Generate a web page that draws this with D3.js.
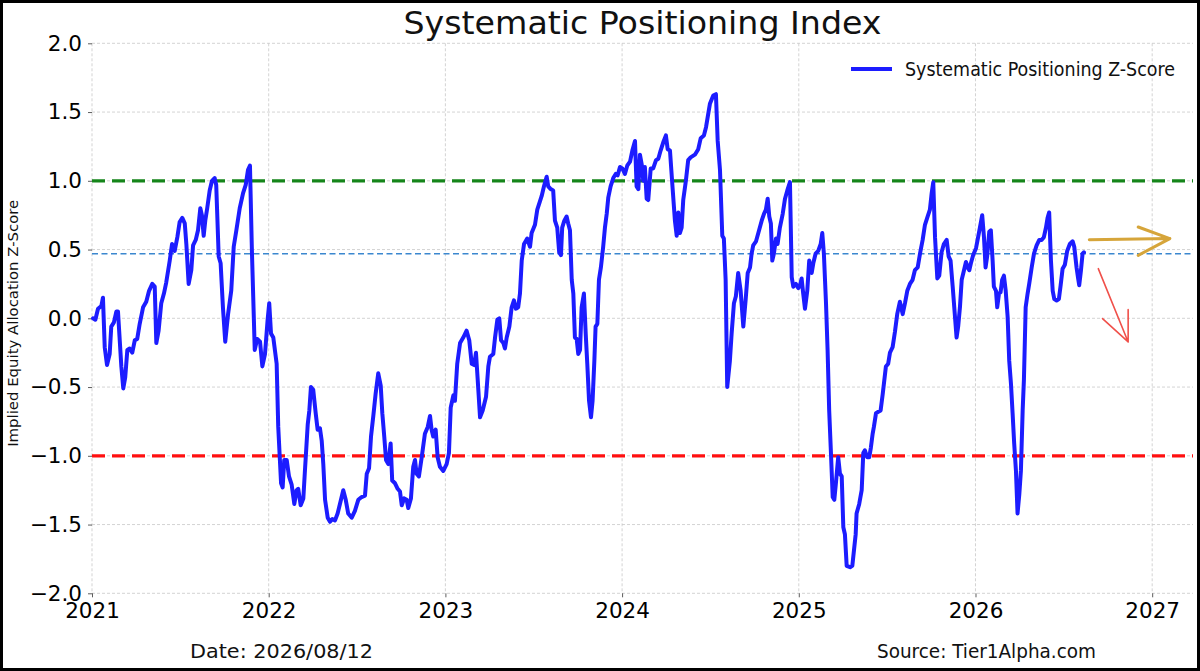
<!DOCTYPE html>
<html>
<head>
<meta charset="utf-8">
<script src="https://cdn.jsdelivr.net/npm/d3@7"></script>
<style>
  html, body { margin: 0; padding: 0; background: #fff; }
  svg { display: block; }
</style>
</head>
<body>
<svg id="chart" width="1200" height="671"></svg>
<script>
// ---- data ----
const startYear = 2021;
// years elapsed since 2021-01-01
const yearsIn = [0.006,0.019,0.034,0.053,0.062,0.072,0.085,0.100,0.109,0.124,0.138,0.147,0.166,0.177,0.188,0.200,0.213,0.228,0.242,0.256,0.270,0.289,0.307,0.323,0.341,0.355,0.364,0.377,0.392,0.407,0.420,0.440,0.453,0.468,0.483,0.496,0.511,0.525,0.534,0.547,0.562,0.572,0.587,0.600,0.613,0.622,0.632,0.641,0.652,0.666,0.679,0.694,0.703,0.717,0.728,0.741,0.754,0.770,0.788,0.802,0.817,0.836,0.855,0.870,0.883,0.894,0.905,0.921,0.935,0.951,0.964,0.979,0.994,
  1.003,1.013,1.026,1.045,1.054,1.070,1.079,1.088,1.102,1.115,1.130,1.145,1.158,1.167,1.181,1.196,1.205,1.221,1.230,1.239,1.252,1.266,1.277,1.290,1.300,1.309,1.319,1.334,1.347,1.360,1.375,1.390,1.409,1.422,1.436,1.450,1.470,1.488,1.507,1.526,1.545,1.555,1.568,1.579,1.592,1.605,1.620,1.634,1.643,1.654,1.664,1.677,1.690,1.699,1.715,1.730,1.743,1.753,1.767,1.781,1.790,1.805,1.818,1.828,1.837,1.850,1.866,1.884,1.900,1.913,1.922,1.931,1.945,1.956,1.969,1.988,
  2.007,2.020,2.030,2.045,2.054,2.067,2.083,2.101,2.120,2.135,2.149,2.163,2.173,2.183,2.196,2.211,2.230,2.243,2.252,2.271,2.281,2.294,2.305,2.315,2.328,2.337,2.347,2.362,2.375,2.388,2.399,2.412,2.422,2.432,2.445,2.463,2.479,2.488,2.507,2.520,2.535,2.545,2.558,2.573,2.582,2.596,2.610,2.620,2.633,2.644,2.654,2.661,2.673,2.686,2.695,2.705,2.715,2.724,2.733,2.743,2.752,2.762,2.771,2.784,2.794,2.803,2.813,2.824,2.833,2.843,2.850,2.860,2.869,2.880,2.893,2.903,2.913,2.922,2.935,2.950,2.964,2.975,2.988,
  3.001,3.016,3.029,3.045,3.058,3.073,3.082,3.092,3.101,3.111,3.120,3.129,3.139,3.148,3.162,3.176,3.192,3.205,3.218,3.233,3.248,3.258,3.271,3.284,3.299,3.309,3.318,3.327,3.337,3.346,3.361,3.374,3.388,3.412,3.431,3.445,3.463,3.475,3.488,3.497,3.516,3.531,3.541,3.554,3.567,3.576,3.586,3.595,3.610,3.620,3.633,3.644,3.657,3.671,3.686,3.699,3.711,3.724,3.733,3.742,3.758,3.771,3.790,3.803,3.814,3.824,3.833,3.842,3.850,3.859,3.871,3.880,3.893,3.909,3.922,3.935,3.950,3.960,3.969,3.984,3.997,
  4.007,4.016,4.025,4.035,4.048,4.059,4.073,4.082,4.095,4.110,4.124,4.133,4.142,4.154,4.163,4.172,4.182,4.192,4.201,4.210,4.223,4.233,4.243,4.252,4.261,4.271,4.290,4.303,4.312,4.322,4.327,4.342,4.356,4.365,4.374,4.387,4.399,4.408,4.418,4.425,4.437,4.450,4.463,4.475,4.484,4.493,4.506,4.516,4.531,4.544,4.557,4.572,4.588,4.601,4.614,4.629,4.644,4.657,4.673,4.686,4.701,4.714,4.729,4.742,4.752,4.761,4.771,4.784,4.795,4.808,4.821,4.837,4.848,4.859,4.871,4.884,4.893,4.902,4.912,4.922,4.935,4.946,4.956,4.965,4.974,4.987,
  5.003,5.012,5.025,5.038,5.048,5.057,5.066,5.078,5.087,5.097,5.104,5.116,5.123,5.133,5.142,5.151,5.161,5.171,5.182,5.191,5.201,5.210,5.219,5.229,5.238,5.248,5.257,5.267,5.274,5.284,5.295,5.304,5.318,5.331,5.346,5.361,5.374,5.387,5.399,5.408,5.417,5.427,5.437,5.446,5.459,5.472,5.482,5.493,5.506,5.519,5.534,5.550,5.559,5.572,5.581,5.587,5.597,5.606,5.614];

const zScore = [0.00,-0.01,0.07,0.09,0.15,-0.21,-0.34,-0.26,-0.06,-0.03,0.05,0.05,-0.35,-0.51,-0.43,-0.23,-0.22,-0.25,-0.16,-0.15,-0.04,0.08,0.12,0.20,0.25,0.23,-0.18,-0.09,0.11,0.18,0.26,0.42,0.54,0.49,0.59,0.70,0.73,0.69,0.54,0.25,0.35,0.53,0.57,0.64,0.80,0.75,0.60,0.71,0.80,0.93,1.00,1.02,0.97,0.45,0.40,0.08,-0.17,0.03,0.20,0.52,0.64,0.80,0.91,0.97,1.08,1.11,0.49,-0.23,-0.15,-0.17,-0.35,-0.26,-0.01,
  0.11,-0.11,-0.14,-0.33,-0.79,-1.20,-1.23,-1.03,-1.03,-1.15,-1.21,-1.35,-1.25,-1.24,-1.36,-1.31,-1.11,-0.77,-0.67,-0.50,-0.52,-0.69,-0.81,-0.80,-0.89,-1.06,-1.32,-1.45,-1.48,-1.46,-1.47,-1.42,-1.32,-1.25,-1.32,-1.42,-1.45,-1.40,-1.32,-1.30,-1.29,-1.13,-1.09,-0.86,-0.71,-0.55,-0.40,-0.49,-0.69,-0.86,-1.03,-1.06,-0.91,-1.18,-1.20,-1.24,-1.26,-1.36,-1.31,-1.32,-1.38,-1.31,-1.08,-1.03,-1.13,-1.15,-1.01,-0.84,-0.79,-0.71,-0.81,-0.86,-0.81,-1.01,-1.08,-1.11,
  -1.06,-0.98,-0.65,-0.56,-0.60,-0.33,-0.18,-0.14,-0.09,-0.16,-0.33,-0.34,-0.25,-0.45,-0.72,-0.67,-0.57,-0.35,-0.28,-0.26,-0.14,-0.01,0.00,-0.16,-0.18,-0.22,-0.14,-0.06,0.08,0.13,0.07,0.08,0.18,0.42,0.54,0.58,0.52,0.62,0.68,0.79,0.85,0.89,0.96,1.03,0.96,0.94,0.93,0.71,0.66,0.48,0.46,0.66,0.71,0.74,0.69,0.64,0.28,0.18,-0.14,-0.15,-0.26,-0.23,0.08,0.18,-0.11,-0.33,-0.60,-0.72,-0.60,-0.31,-0.06,-0.04,0.28,0.37,0.52,0.66,0.76,0.88,0.96,1.02,1.05,1.04,1.10,
  1.09,1.05,1.11,1.14,1.22,1.29,0.96,0.94,1.19,1.12,1.00,1.10,0.87,0.86,1.09,1.09,1.15,1.16,1.22,1.28,1.33,1.23,1.22,0.98,0.71,0.60,0.77,0.62,0.66,0.86,1.00,1.15,1.17,1.19,1.23,1.31,1.33,1.39,1.49,1.56,1.62,1.63,1.29,1.08,0.60,0.58,0.28,-0.50,-0.31,-0.11,0.11,0.16,0.33,0.20,-0.06,0.13,0.33,0.37,0.47,0.53,0.56,0.62,0.71,0.76,0.79,0.87,0.74,0.69,0.42,0.47,0.58,0.54,0.66,0.76,0.87,0.93,0.99,0.30,0.23,0.25,0.22,
  0.24,0.29,0.18,0.07,0.20,0.42,0.33,0.40,0.47,0.49,0.54,0.62,0.47,0.11,-0.23,-0.67,-0.98,-1.30,-1.32,-1.20,-1.01,-1.13,-1.15,-1.52,-1.57,-1.80,-1.81,-1.80,-1.69,-1.57,-1.42,-1.35,-1.25,-0.98,-0.96,-1.01,-1.01,-0.94,-0.84,-0.79,-0.69,-0.68,-0.67,-0.55,-0.45,-0.35,-0.33,-0.25,-0.21,-0.10,0.03,0.12,0.03,0.11,0.20,0.25,0.28,0.35,0.37,0.47,0.57,0.68,0.74,0.79,0.91,0.99,0.59,0.29,0.31,0.48,0.54,0.57,0.45,0.42,0.23,0.01,-0.14,-0.06,0.08,0.28,0.35,0.41,0.37,0.35,0.40,0.46,
  0.51,0.57,0.66,0.75,0.59,0.37,0.45,0.63,0.64,0.42,0.23,0.20,0.08,0.18,0.19,0.28,0.31,0.20,0.01,-0.31,-0.48,-0.69,-0.91,-1.11,-1.42,-1.28,-1.11,-0.67,-0.45,0.08,0.18,0.25,0.37,0.47,0.53,0.57,0.57,0.59,0.66,0.73,0.77,0.42,0.20,0.14,0.13,0.14,0.24,0.36,0.39,0.49,0.54,0.56,0.52,0.37,0.29,0.24,0.35,0.47,0.48];

const yearTicks = [2021, 2022, 2023, 2024, 2025, 2026, 2027];
const zTicks = [-2.0, -1.5, -1.0, -0.5, 0.0, 0.5, 1.0, 1.5, 2.0];
const upperBand = 1.0;
const lowerBand = -1.0;
const meanLevel = 0.47;

// hand-drawn arrows on the right: [start, tip, barb1, barb2] as [year, z]
const flatArrow = [[2026.644, 0.572], [2027.100, 0.580], [2026.921, 0.664], [2026.921, 0.458]];
const downArrow = [[2026.695, 0.361], [2026.864, -0.172], [2026.719, -0.002], [2026.864, 0.063]];

const titleText = "Systematic Positioning Index";
const legendText = "Systematic Positioning Z-Score";
const yLabelText = "Implied Equity Allocation Z-Score";
const dateText = "Date: 2026/08/12";
const sourceText = "Source: Tier1Alpha.com";

// ---- layout ----
const W = 1200, H = 671;
const margin = { top: 43.3, right: 7, bottom: 77.7, left: 92 };
const width = W - margin.left - margin.right;
const height = H - margin.top - margin.bottom;
// the reference uses a squarish condensed face; take the narrowest we have
const squareFont = "'DejaVu Sans Condensed', 'Liberation Sans Narrow', sans-serif";

const svg = d3.select('#chart');
svg.append('rect').attr('width', W).attr('height', H).attr('fill', '#fff');

const x = d3.scaleLinear().domain([2021, 2027.231]).range([0, width]);
const y = d3.scaleLinear().domain([-2, 2]).range([height, 0]);

const g = svg.append('g').attr('transform', `translate(${margin.left},${margin.top})`);

// grid
g.append('g').selectAll('line').data(zTicks).enter().append('line')
  .attr('x1', 0).attr('x2', width)
  .attr('y1', d => y(d)).attr('y2', d => y(d))
  .attr('stroke', '#c8c8c8').attr('stroke-width', 0.8).attr('stroke-dasharray', '3,2');
g.append('g').selectAll('line').data(yearTicks).enter().append('line')
  .attr('x1', d => x(d)).attr('x2', d => x(d))
  .attr('y1', 0).attr('y2', height)
  .attr('stroke', '#c8c8c8').attr('stroke-width', 0.8).attr('stroke-dasharray', '3,2');

// axes
const xAxis = g.append('g').attr('transform', `translate(0,${height})`)
  .call(d3.axisBottom(x).tickValues(yearTicks).tickFormat(d3.format('d')).tickSize(4).tickPadding(5));
const yAxis = g.append('g')
  .call(d3.axisLeft(y).tickValues(zTicks).tickFormat(d3.format('.1f')).tickSize(4).tickPadding(6));
[xAxis, yAxis].forEach(a => {
  a.select('.domain').remove();
  a.selectAll('.tick line').attr('stroke', '#333').attr('stroke-width', 0.8);
  a.selectAll('.tick text').attr('fill', '#000')
    .style('font-family', "'DejaVu Sans', sans-serif").style('font-size', '21.5px');
});

// reference levels
g.append('line').attr('x1', 0).attr('x2', width).attr('y1', y(meanLevel)).attr('y2', y(meanLevel))
  .attr('stroke', '#3b87cf').attr('stroke-width', 1.5).attr('stroke-dasharray', '6,3.5');
g.append('line').attr('x1', 0).attr('x2', width).attr('y1', y(upperBand)).attr('y2', y(upperBand))
  .attr('stroke', '#15851a').attr('stroke-width', 3.2).attr('stroke-dasharray', '13,7');
g.append('line').attr('x1', 0).attr('x2', width).attr('y1', y(lowerBand)).attr('y2', y(lowerBand))
  .attr('stroke', '#ff1010').attr('stroke-width', 3.2).attr('stroke-dasharray', '13,7');

// the series
const series = yearsIn.map((t, i) => ({ yr: startYear + t, z: zScore[i] }));
const line = d3.line().x(d => x(d.yr)).y(d => y(d.z));
g.append('path').datum(series)
  .attr('d', line)
  .attr('fill', 'none')
  .attr('stroke', '#1c1cff')
  .attr('stroke-width', 4)
  .attr('stroke-linejoin', 'round')
  .attr('stroke-linecap', 'round');

// annotation arrows
let drawArrow = function(pts, colour, lw) {
  let p = pts.map(d => [x(d[0]), y(d[1])]);
  let path = d3.path();
  path.moveTo(p[0][0], p[0][1]); path.lineTo(p[1][0], p[1][1]);
  path.moveTo(p[2][0], p[2][1]); path.lineTo(p[1][0], p[1][1]); path.lineTo(p[3][0], p[3][1]);
  g.append('path').attr('d', path.toString()).attr('fill', 'none')
    .attr('stroke', colour).attr('stroke-width', lw)
    .attr('stroke-linecap', 'round').attr('stroke-linejoin', 'round');
};
drawArrow(flatArrow, '#d6a53a', 3);
drawArrow(downArrow, '#f0504a', 1.6);

// legend
const legX = 851, legY = 69;
svg.append('line').attr('x1', legX).attr('x2', legX + 41).attr('y1', legY).attr('y2', legY)
  .attr('stroke', '#1c1cff').attr('stroke-width', 4);

// texts (fitted to the widths seen in the picture)
let putText = function(txt, px, py, size, len, anchor, rot) {
  let t = svg.append('text').attr('x', px).attr('y', py).text(txt)
    .attr('fill', '#111').attr('text-anchor', anchor)
    .style('font-family', squareFont).style('font-size', size + 'px')
    .attr('textLength', len).attr('lengthAdjust', 'spacingAndGlyphs');
  if (rot) { t.attr('transform', `rotate(-90,${px},${py})`); }
  return t;
};
putText(titleText, margin.left + width / 2, 34, 32, 478, 'middle');
putText(legendText, 905, 76, 19.5, 270, 'start');
putText(yLabelText, 18.5, margin.top + height / 2 + 5, 14, 247, 'middle', true);
putText(dateText, 190, 658, 20, 183, 'start');
putText(sourceText, 877, 658, 20, 219, 'start');

// frame
svg.append('rect').attr('x', 1.5).attr('y', 1.5).attr('width', W - 3).attr('height', H - 3)
  .attr('fill', 'none').attr('stroke', '#000').attr('stroke-width', 3);
</script>
</body>
</html>
